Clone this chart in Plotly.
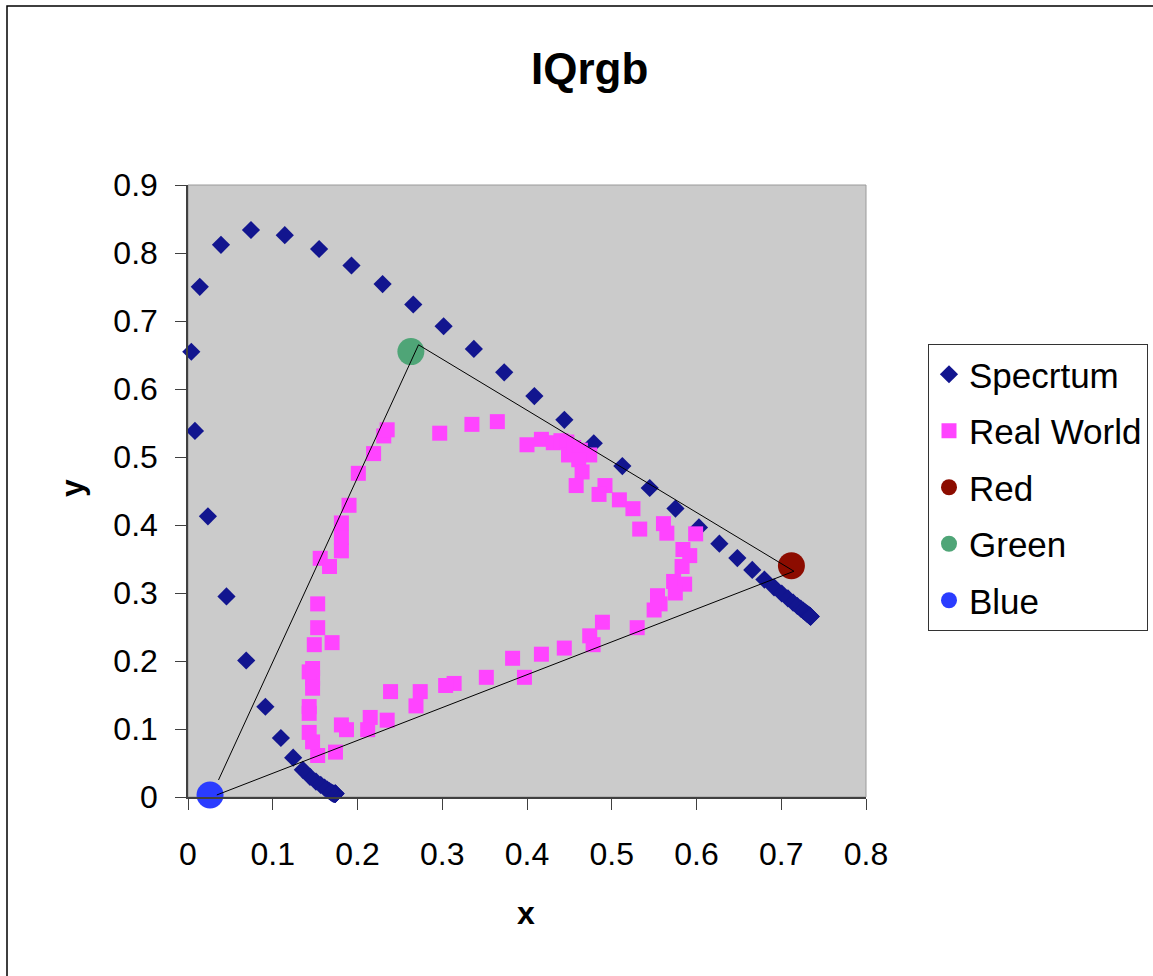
import plotly.graph_objects as go

# ---- data -------------------------------------------------------------
# Spectral locus (chromaticity x, y), 380-700 nm in 5 nm steps
spectrum_x = [0.1741, 0.1740, 0.1738, 0.1736, 0.1733, 0.1730, 0.1726, 0.1721, 0.1714, 0.1703,
              0.1689, 0.1669, 0.1644, 0.1611, 0.1566, 0.1510, 0.1440, 0.1355, 0.1241, 0.1096,
              0.0913, 0.0687, 0.0454, 0.0235, 0.0082, 0.0039, 0.0139, 0.0389, 0.0743, 0.1142,
              0.1547, 0.1929, 0.2296, 0.2658, 0.3016, 0.3373, 0.3731, 0.4087, 0.4441, 0.4788,
              0.5125, 0.5448, 0.5752, 0.6029, 0.6270, 0.6482, 0.6658, 0.6801, 0.6915, 0.7006,
              0.7079, 0.7140, 0.7190, 0.7230, 0.7260, 0.7283, 0.7300, 0.7311, 0.7320, 0.7327,
              0.7334, 0.7340, 0.7344, 0.7346, 0.7347]
spectrum_y = [0.0050, 0.0050, 0.0049, 0.0049, 0.0048, 0.0048, 0.0048, 0.0048, 0.0051, 0.0058,
              0.0069, 0.0086, 0.0109, 0.0138, 0.0177, 0.0227, 0.0297, 0.0399, 0.0578, 0.0868,
              0.1327, 0.2007, 0.2950, 0.4127, 0.5384, 0.6548, 0.7502, 0.8120, 0.8338, 0.8262,
              0.8059, 0.7816, 0.7543, 0.7243, 0.6923, 0.6589, 0.6245, 0.5896, 0.5547, 0.5202,
              0.4866, 0.4544, 0.4242, 0.3965, 0.3725, 0.3514, 0.3340, 0.3197, 0.3083, 0.2993,
              0.2920, 0.2859, 0.2809, 0.2770, 0.2740, 0.2717, 0.2700, 0.2689, 0.2680, 0.2673,
              0.2666, 0.2660, 0.2656, 0.2654, 0.2653]

# Real-world surface colours
real_x = [0.153, 0.147, 0.143, 0.143, 0.143, 0.147, 0.147, 0.143, 0.147, 0.149,
          0.170, 0.153, 0.153, 0.156, 0.167, 0.181, 0.181, 0.181, 0.190, 0.201,
          0.219, 0.231, 0.235, 0.297, 0.335, 0.365, 0.400, 0.417, 0.431, 0.440,
          0.447, 0.449, 0.455, 0.463, 0.474, 0.461, 0.465, 0.458, 0.492, 0.485,
          0.509, 0.525, 0.533, 0.561, 0.565, 0.599, 0.584, 0.592, 0.583, 0.573,
          0.586, 0.575, 0.554, 0.557, 0.550, 0.530, 0.489, 0.474, 0.478, 0.444,
          0.417, 0.383, 0.397, 0.352, 0.314, 0.304, 0.274, 0.269, 0.239, 0.235,
          0.215, 0.212, 0.187, 0.181, 0.174]
real_y = [0.061, 0.081, 0.095, 0.123, 0.133, 0.160, 0.175, 0.184, 0.189, 0.224,
          0.227, 0.249, 0.284, 0.351, 0.339, 0.362, 0.382, 0.403, 0.429, 0.476,
          0.505, 0.531, 0.540, 0.535, 0.548, 0.552, 0.518, 0.526, 0.521, 0.524,
          0.522, 0.503, 0.514, 0.510, 0.503, 0.496, 0.478, 0.458, 0.458, 0.445,
          0.437, 0.424, 0.394, 0.402, 0.388, 0.387, 0.364, 0.355, 0.339, 0.317,
          0.313, 0.300, 0.296, 0.284, 0.275, 0.249, 0.257, 0.237, 0.224, 0.219,
          0.210, 0.204, 0.176, 0.176, 0.167, 0.164, 0.155, 0.134, 0.155, 0.113,
          0.117, 0.099, 0.099, 0.106, 0.066]

# Primaries
red_xy = (0.712, 0.340)
green_xy = (0.263, 0.655)
blue_xy = (0.026, 0.003)

# Gamut triangle outline
tri_x = [0.036, 0.272, 0.715, 0.034]
tri_y = [0.025, 0.665, 0.332, 0.003]

# ---- figure -----------------------------------------------------------
FONT = "Liberation Sans, Arial, sans-serif"
W, H = 1153, 976
L, R, T, B = 188, 287, 185, 179
PW, PH = W - L - R, H - T - B


def px(xp):
    return (xp - L) / PW


def py(yp):
    return (H - B - yp) / PH


fig = go.Figure()

fig.add_trace(go.Scatter(
    x=spectrum_x, y=spectrum_y, mode="markers", name="Specrtum",
    legendgroup="a", cliponaxis=False,
    marker=dict(symbol="diamond", size=14, color="#12158F",
                line=dict(width=0))))

fig.add_trace(go.Scatter(
    x=real_x, y=real_y, mode="markers", name="Real World",
    legendgroup="b", cliponaxis=False,
    marker=dict(symbol="square", size=15, color="#FF44FF",
                line=dict(width=0))))

fig.add_trace(go.Scatter(
    x=[red_xy[0]], y=[red_xy[1]], mode="markers", name="Red",
    legendgroup="c", cliponaxis=False,
    marker=dict(symbol="circle", size=27, color="#8C0C00", line=dict(width=0))))

fig.add_trace(go.Scatter(
    x=[green_xy[0]], y=[green_xy[1]], mode="markers", name="Green",
    legendgroup="d", cliponaxis=False,
    marker=dict(symbol="circle", size=27, color="#4FA577", line=dict(width=0))))

fig.add_trace(go.Scatter(
    x=[blue_xy[0]], y=[blue_xy[1]], mode="markers", name="Blue",
    legendgroup="e", cliponaxis=False,
    marker=dict(symbol="circle", size=27, color="#2A3CFF", line=dict(width=0))))

fig.add_trace(go.Scatter(
    x=tri_x, y=tri_y, mode="lines", showlegend=False, cliponaxis=False,
    line=dict(color="black", width=1), hoverinfo="skip"))

axis_common = dict(
    showgrid=False, zeroline=False, showline=True, linecolor="#404040",
    linewidth=1.5, ticks="outside", ticklen=11, tickcolor="#404040",
    tickwidth=1, dtick=0.1, tick0=0, tickformat="~g",
    tickfont=dict(family=FONT, size=32, color="black"),
)

fig.update_xaxes(range=[0, 0.8], ticklabelstandoff=17, **axis_common)
fig.update_yaxes(range=[0, 0.9], ticklabelstandoff=11, **axis_common)

fig.update_layout(
    width=W, height=H,
    margin=dict(l=L, r=R, t=T, b=B, autoexpand=False),
    paper_bgcolor="white", plot_bgcolor="#CBCBCB",
    showlegend=True,
    legend=dict(
        x=px(928), y=py(344), xanchor="left", yanchor="top",
        bordercolor="#333333", borderwidth=1, bgcolor="white",
        font=dict(family=FONT, size=35, color="black"),
        tracegroupgap=8, itemsizing="trace",
    ),
    shapes=[
        # plot-area frame
        dict(type="rect", xref="paper", yref="paper", x0=0, x1=1, y0=0, y1=1,
             line=dict(color="#9A9A9A", width=1), layer="below"),
        # chart-area frame
        dict(type="rect", xref="paper", yref="paper",
             x0=px(7), x1=px(W + 10), y0=py(H + 10), y1=py(6),
             line=dict(color="black", width=1.5)),
    ],
    annotations=[
        dict(text="<b>IQrgb</b>", xref="paper", yref="paper",
             x=px(589), y=py(68), xanchor="center", yanchor="middle",
             showarrow=False,
             font=dict(family=FONT, size=44, color="black")),
        dict(text="<b>x</b>", xref="paper", yref="paper",
             x=px(526), y=py(913), xanchor="center", yanchor="middle",
             showarrow=False,
             font=dict(family=FONT, size=32, color="black")),
        dict(text="<b>y</b>", xref="paper", yref="paper",
             x=px(72), y=py(488), xanchor="center", yanchor="middle",
             showarrow=False, textangle=-90,
             font=dict(family=FONT, size=32, color="black")),
    ],
)

fig.write_html("out.html")
